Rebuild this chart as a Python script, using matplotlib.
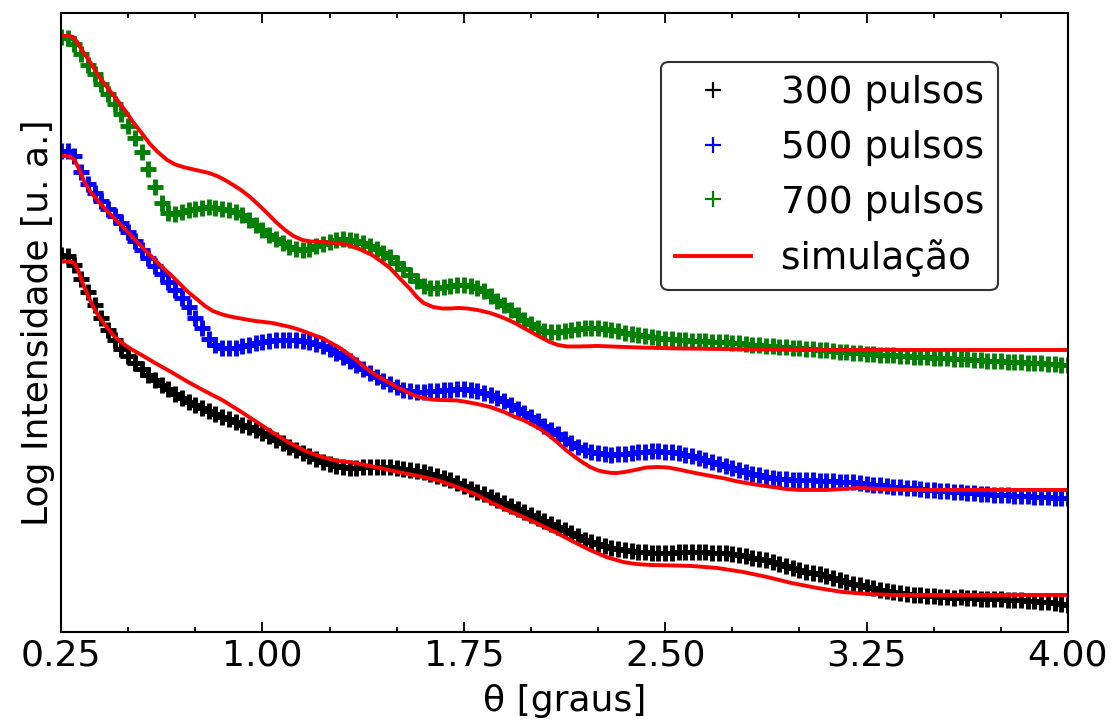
import numpy as np
import matplotlib
matplotlib.use('Agg')
import matplotlib.pyplot as plt
from matplotlib.ticker import MultipleLocator

# measured angles (degrees), one point every 0.025
theta = np.linspace(0.25, 4.00, 151)

# log intensity (arbitrary units, curves shifted vertically)
pulsos_300 = [
    3.77, 3.76, 3.67, 3.53, 3.40, 3.27, 3.14, 3.02, 2.92, 2.83,
    2.76, 2.69, 2.63, 2.57, 2.52, 2.47, 2.43, 2.38, 2.34, 2.30,
    2.27, 2.24, 2.21, 2.18, 2.15, 2.125, 2.10, 2.07, 2.045, 2.02,
    1.99, 1.955, 1.92, 1.885, 1.85, 1.82, 1.79, 1.76, 1.73, 1.70,
    1.675, 1.66, 1.645, 1.64, 1.64, 1.645, 1.645, 1.65, 1.65, 1.65,
    1.64, 1.63, 1.62, 1.61, 1.60, 1.58, 1.56, 1.54, 1.515, 1.49,
    1.46, 1.43, 1.40, 1.375, 1.35, 1.32, 1.29, 1.26, 1.23, 1.20,
    1.17, 1.14, 1.11, 1.08, 1.05, 1.02, 0.99, 0.955, 0.92, 0.895,
    0.875, 0.855, 0.84, 0.825, 0.815, 0.805, 0.80, 0.795, 0.79, 0.79,
    0.79, 0.79, 0.795, 0.795, 0.795, 0.795, 0.795, 0.79, 0.79, 0.785,
    0.775, 0.765, 0.755, 0.74, 0.73, 0.715, 0.70, 0.68, 0.66, 0.64,
    0.62, 0.60, 0.59, 0.575, 0.555, 0.535, 0.515, 0.495, 0.48, 0.465,
    0.45, 0.435, 0.42, 0.41, 0.40, 0.39, 0.38, 0.37, 0.365, 0.36,
    0.355, 0.35, 0.345, 0.34, 0.345, 0.335, 0.335, 0.33, 0.325, 0.325,
    0.325, 0.32, 0.32, 0.315, 0.31, 0.305, 0.30, 0.295, 0.29, 0.28,
    0.27,
]

pulsos_500 = [
    4.81, 4.81, 4.76, 4.60, 4.48, 4.39, 4.31, 4.23, 4.16, 4.09,
    4.00, 3.91, 3.82, 3.74, 3.66, 3.58, 3.50, 3.42, 3.34, 3.25,
    3.14, 3.04, 2.93, 2.87, 2.84, 2.835, 2.84, 2.855, 2.87, 2.885,
    2.90, 2.91, 2.915, 2.92, 2.92, 2.915, 2.905, 2.895, 2.88, 2.86,
    2.83, 2.79, 2.75, 2.71, 2.67, 2.63, 2.59, 2.55, 2.51, 2.48,
    2.45, 2.42, 2.405, 2.40, 2.40, 2.405, 2.41, 2.415, 2.42, 2.425,
    2.425, 2.42, 2.41, 2.39, 2.37, 2.34, 2.31, 2.27, 2.23, 2.19,
    2.15, 2.11, 2.06, 2.02, 1.98, 1.93, 1.89, 1.85, 1.82, 1.80,
    1.785, 1.775, 1.77, 1.775, 1.78, 1.79, 1.795, 1.80, 1.805, 1.805,
    1.80, 1.795, 1.785, 1.77, 1.76, 1.74, 1.72, 1.70, 1.68, 1.66,
    1.64, 1.62, 1.60, 1.58, 1.565, 1.55, 1.54, 1.53, 1.525, 1.52,
    1.52, 1.52, 1.515, 1.51, 1.51, 1.505, 1.50, 1.50, 1.495, 1.49,
    1.48, 1.47, 1.465, 1.46, 1.45, 1.445, 1.44, 1.435, 1.43, 1.42,
    1.415, 1.41, 1.405, 1.40, 1.395, 1.39, 1.385, 1.38, 1.375, 1.37,
    1.37, 1.365, 1.36, 1.36, 1.355, 1.35, 1.35, 1.345, 1.34, 1.34,
    1.335,
]

pulsos_700 = [
    5.95, 5.94, 5.88, 5.78, 5.67, 5.58, 5.48, 5.38, 5.28, 5.18,
    5.06, 4.94, 4.80, 4.63, 4.45, 4.29, 4.19, 4.18, 4.20, 4.22,
    4.23, 4.24, 4.245, 4.24, 4.23, 4.22, 4.20, 4.17, 4.12, 4.07,
    4.02, 3.97, 3.93, 3.89, 3.85, 3.83, 3.82, 3.83, 3.86, 3.88,
    3.90, 3.92, 3.925, 3.92, 3.91, 3.89, 3.86, 3.83, 3.79, 3.75,
    3.69, 3.63, 3.57, 3.51, 3.46, 3.44, 3.44, 3.45, 3.46, 3.465,
    3.465, 3.46, 3.44, 3.41, 3.36, 3.31, 3.27, 3.22, 3.17, 3.12,
    3.08, 3.04, 3.01, 3.00, 3.00, 3.01, 3.02, 3.03, 3.035, 3.04,
    3.04, 3.03, 3.02, 3.01, 2.99, 2.98, 2.97, 2.96, 2.95, 2.94,
    2.93, 2.925, 2.92, 2.915, 2.91, 2.91, 2.905, 2.90, 2.90, 2.895,
    2.89, 2.885, 2.88, 2.87, 2.865, 2.86, 2.855, 2.85, 2.845, 2.84,
    2.835, 2.83, 2.825, 2.82, 2.815, 2.81, 2.80, 2.795, 2.79, 2.785,
    2.78, 2.775, 2.77, 2.77, 2.765, 2.76, 2.755, 2.75, 2.75, 2.745,
    2.74, 2.74, 2.735, 2.73, 2.73, 2.725, 2.72, 2.715, 2.71, 2.71,
    2.705, 2.70, 2.70, 2.695, 2.69, 2.69, 2.685, 2.68, 2.675, 2.67,
    2.67,
]

# simulated curves (theta, log intensity)
sim_300_x = [0.25, 0.29, 0.302, 0.315, 0.33, 0.351, 0.37, 0.39, 0.414, 0.444,
             0.477, 0.51, 0.55, 0.60, 0.66, 0.723, 0.785, 0.85, 0.91, 0.973,
             1.035, 1.095, 1.16, 1.222, 1.28, 1.345, 1.42, 1.505, 1.56, 1.598,
             1.66, 1.725, 1.79, 1.848, 1.91, 1.971, 2.035, 2.097, 2.16, 2.22,
             2.28, 2.343, 2.39, 2.444, 2.529, 2.60, 2.693, 2.79, 2.879, 2.97,
             3.066, 3.16, 3.252, 3.35, 3.498, 4.0]
sim_300_y = [3.71, 3.70, 3.68, 3.61, 3.49, 3.36, 3.25, 3.16, 3.07, 2.97,
             2.89, 2.83, 2.77, 2.69, 2.60, 2.50, 2.41, 2.32, 2.22, 2.11,
             2.00, 1.90, 1.81, 1.75, 1.71, 1.69, 1.65, 1.60, 1.57, 1.55,
             1.51, 1.45, 1.38, 1.30, 1.22, 1.15, 1.07, 0.99, 0.90, 0.82,
             0.75, 0.70, 0.68, 0.67, 0.665, 0.66, 0.64, 0.60, 0.55, 0.49,
             0.44, 0.40, 0.38, 0.37, 0.37, 0.37]

sim_500_x = [0.25, 0.285, 0.30, 0.315, 0.339, 0.36, 0.385, 0.414, 0.445, 0.477,
             0.507, 0.537, 0.57, 0.60, 0.63, 0.663, 0.693, 0.723, 0.755, 0.786,
             0.815, 0.85, 0.88, 0.909, 0.94, 0.973, 1.005, 1.036, 1.07, 1.103,
             1.135, 1.17, 1.20, 1.222, 1.255, 1.289, 1.315, 1.345, 1.38, 1.419,
             1.45, 1.475, 1.50, 1.531, 1.565, 1.598, 1.63, 1.661, 1.69, 1.725,
             1.76, 1.80, 1.848, 1.90, 1.94, 1.971, 2.00, 2.034, 2.065, 2.097,
             2.13, 2.164, 2.19, 2.22, 2.25, 2.276, 2.30, 2.321, 2.35, 2.388,
             2.43, 2.47, 2.51, 2.55, 2.593, 2.64, 2.69, 2.723, 2.76, 2.80,
             2.846, 2.90, 2.95, 3.00, 3.05, 3.10, 3.16, 3.218, 3.30, 3.40,
             3.468, 4.0]
sim_500_y = [4.76, 4.755, 4.72, 4.64, 4.49, 4.40, 4.32, 4.23, 4.145, 4.06,
             3.975, 3.89, 3.80, 3.72, 3.64, 3.56, 3.48, 3.40, 3.33, 3.26,
             3.21, 3.175, 3.155, 3.14, 3.125, 3.11, 3.10, 3.09, 3.07, 3.05,
             3.025, 2.99, 2.96, 2.94, 2.89, 2.84, 2.79, 2.73, 2.65, 2.575,
             2.525, 2.49, 2.45, 2.41, 2.365, 2.34, 2.325, 2.32, 2.318, 2.315,
             2.30, 2.28, 2.25, 2.20, 2.15, 2.12, 2.08, 2.03, 1.97, 1.90,
             1.82, 1.75, 1.70, 1.65, 1.615, 1.60, 1.59, 1.59, 1.60, 1.62,
             1.645, 1.65, 1.645, 1.625, 1.60, 1.575, 1.55, 1.535, 1.51, 1.49,
             1.47, 1.45, 1.43, 1.42, 1.42, 1.42, 1.43, 1.44, 1.43, 1.42,
             1.42, 1.42]

sim_700_x = [0.25, 0.28, 0.295, 0.31, 0.33, 0.358, 0.395, 0.43, 0.459, 0.49,
             0.518, 0.55, 0.581, 0.61, 0.645, 0.675, 0.704, 0.735, 0.768, 0.80,
             0.831, 0.86, 0.891, 0.92, 0.954, 0.99, 1.021, 1.05, 1.084, 1.115,
             1.148, 1.18, 1.222, 1.27, 1.319, 1.36, 1.408, 1.44, 1.475, 1.51,
             1.55, 1.575, 1.60, 1.635, 1.67, 1.70, 1.73, 1.762, 1.80, 1.848,
             1.89, 1.933, 1.98, 2.034, 2.07, 2.10, 2.135, 2.18, 2.246, 2.30,
             2.40, 2.55, 2.716, 3.0, 4.0]
sim_700_y = [5.96, 5.96, 5.95, 5.90, 5.81, 5.70, 5.54, 5.42, 5.32, 5.21,
             5.10, 4.99, 4.88, 4.80, 4.72, 4.675, 4.65, 4.63, 4.61, 4.59,
             4.56, 4.52, 4.47, 4.42, 4.35, 4.26, 4.18, 4.10, 4.02, 3.96,
             3.92, 3.905, 3.90, 3.89, 3.87, 3.83, 3.77, 3.71, 3.64, 3.54,
             3.43, 3.35, 3.29, 3.25, 3.235, 3.235, 3.24, 3.235, 3.22, 3.19,
             3.15, 3.10, 3.03, 2.95, 2.90, 2.87, 2.855, 2.855, 2.86, 2.855,
             2.845, 2.835, 2.83, 2.82, 2.82]

plt.rcParams['font.family'] = 'DejaVu Sans'
plt.rcParams['font.size'] = 26

fig = plt.figure(figsize=(11.12, 7.24), dpi=100)
ax = fig.add_axes([0.0549, 0.1271, 0.9055, 0.855])

mk = dict(marker='+', linestyle='none', markersize=12, markeredgewidth=3.5)
ax.plot(theta, pulsos_300, color='black', label='300 pulsos', **mk)
ax.plot(theta, pulsos_500, color='blue', label='500 pulsos', **mk)
ax.plot(theta, pulsos_700, color='green', label='700 pulsos', **mk)

ax.plot(sim_300_x, sim_300_y, color='red', lw=2.8, label='simulação')
ax.plot(sim_500_x, sim_500_y, color='red', lw=2.8)
ax.plot(sim_700_x, sim_700_y, color='red', lw=2.8)

ax.set_xlim(0.25, 4.00)
ax.set_ylim(0, 6.19)
ax.set_xticks([0.25, 1.00, 1.75, 2.50, 3.25, 4.00])
ax.set_xticklabels(['0.25', '1.00', '1.75', '2.50', '3.25', '4.00'])
ax.xaxis.set_minor_locator(MultipleLocator(0.25))
ax.set_yticks([])
ax.tick_params(axis='x', which='both', direction='in', top=True, width=1.3, pad=5)
ax.tick_params(axis='x', which='major', length=7)
ax.tick_params(axis='x', which='minor', length=3.5)
for s in ax.spines.values():
    s.set_linewidth(1.5)

ax.set_xlabel('θ [graus]', labelpad=8)
ax.set_ylabel('Log Intensidade [u. a.]')

leg = ax.legend(loc='upper right', bbox_to_anchor=(0.9305, 0.9208), borderaxespad=0,
                numpoints=1, handlelength=2.05, handletextpad=0.8, labelspacing=0.5,
                borderpad=0.35, fontsize=27, fancybox=True, framealpha=1, edgecolor='0.2')
leg.get_frame().set_linewidth(1.5)
for h in leg.legend_handles[:3]:
    h.set_markersize(11)
    h.set_markeredgewidth(1.6)

fig.savefig('out.png', dpi=100)
